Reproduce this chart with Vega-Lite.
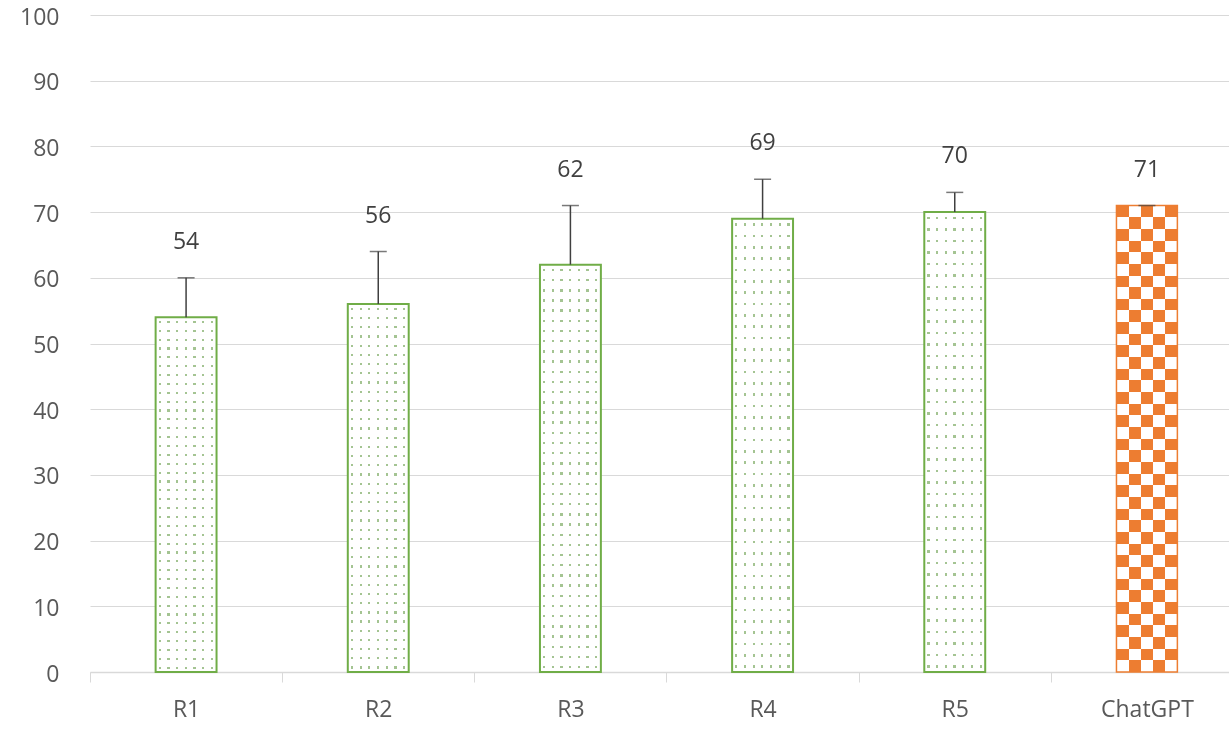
{
  "$schema": "https://vega.github.io/schema/vega-lite/v6.json",
  "width": 1139,
  "height": 657,
  "autosize": {"type": "none"},
  "padding": {"left": 90, "top": 15, "right": 0, "bottom": 58},
  "background": "white",
  "data": {"values": [
    {"cat": "R1", "value": 54, "upper": 60, "grp": "R"},
    {"cat": "R2", "value": 56, "upper": 64, "grp": "R"},
    {"cat": "R3", "value": 62, "upper": 71, "grp": "R"},
    {"cat": "R4", "value": 69, "upper": 75, "grp": "R"},
    {"cat": "R5", "value": 70, "upper": 73, "grp": "R"},
    {"cat": "ChatGPT", "value": 71, "upper": 71, "grp": "C"}
  ]},
  "encoding": {
    "x": {"field": "cat", "type": "nominal", "sort": null,
      "scale": {"paddingInner": 0.683, "paddingOuter": 0.3415, "range": [0, 1153]},
      "axis": {"labelAngle": 0, "tickOffset": -96.1, "labelOffset": 96.1, "grid": false, "tickSize": 10, "labelPadding": 16, "domainWidth": 1.5}}
  },
  "layer": [
    {
      "transform": [{"filter": "datum.grp == 'R'"}],
      "mark": {"type": "bar", "fill": {"gradient": "linear", "x1": 0, "y1": 0, "x2": 0, "y2": 1, "stops": [
        {"offset": 0, "color": "#fff"},
        {"offset": 0.01, "color": "#fff"}, {"offset": 0.01, "color": "#000"}, {"offset": 0.016, "color": "#000"}, {"offset": 0.016, "color": "#fff"},
        {"offset": 0.035, "color": "#fff"}, {"offset": 0.035, "color": "#000"}, {"offset": 0.041, "color": "#000"}, {"offset": 0.041, "color": "#fff"},
        {"offset": 0.06, "color": "#fff"}, {"offset": 0.06, "color": "#000"}, {"offset": 0.066, "color": "#000"}, {"offset": 0.066, "color": "#fff"},
        {"offset": 0.085, "color": "#fff"}, {"offset": 0.085, "color": "#000"}, {"offset": 0.091, "color": "#000"}, {"offset": 0.091, "color": "#fff"},
        {"offset": 0.11, "color": "#fff"}, {"offset": 0.11, "color": "#000"}, {"offset": 0.116, "color": "#000"}, {"offset": 0.116, "color": "#fff"},
        {"offset": 0.135, "color": "#fff"}, {"offset": 0.135, "color": "#000"}, {"offset": 0.141, "color": "#000"}, {"offset": 0.141, "color": "#fff"},
        {"offset": 0.16, "color": "#fff"}, {"offset": 0.16, "color": "#000"}, {"offset": 0.166, "color": "#000"}, {"offset": 0.166, "color": "#fff"},
        {"offset": 0.185, "color": "#fff"}, {"offset": 0.185, "color": "#000"}, {"offset": 0.191, "color": "#000"}, {"offset": 0.191, "color": "#fff"},
        {"offset": 0.21, "color": "#fff"}, {"offset": 0.21, "color": "#000"}, {"offset": 0.216, "color": "#000"}, {"offset": 0.216, "color": "#fff"},
        {"offset": 0.235, "color": "#fff"}, {"offset": 0.235, "color": "#000"}, {"offset": 0.241, "color": "#000"}, {"offset": 0.241, "color": "#fff"},
        {"offset": 0.26, "color": "#fff"}, {"offset": 0.26, "color": "#000"}, {"offset": 0.266, "color": "#000"}, {"offset": 0.266, "color": "#fff"},
        {"offset": 0.285, "color": "#fff"}, {"offset": 0.285, "color": "#000"}, {"offset": 0.291, "color": "#000"}, {"offset": 0.291, "color": "#fff"},
        {"offset": 0.31, "color": "#fff"}, {"offset": 0.31, "color": "#000"}, {"offset": 0.316, "color": "#000"}, {"offset": 0.316, "color": "#fff"},
        {"offset": 0.335, "color": "#fff"}, {"offset": 0.335, "color": "#000"}, {"offset": 0.341, "color": "#000"}, {"offset": 0.341, "color": "#fff"},
        {"offset": 0.36, "color": "#fff"}, {"offset": 0.36, "color": "#000"}, {"offset": 0.366, "color": "#000"}, {"offset": 0.366, "color": "#fff"},
        {"offset": 0.385, "color": "#fff"}, {"offset": 0.385, "color": "#000"}, {"offset": 0.391, "color": "#000"}, {"offset": 0.391, "color": "#fff"},
        {"offset": 0.41, "color": "#fff"}, {"offset": 0.41, "color": "#000"}, {"offset": 0.416, "color": "#000"}, {"offset": 0.416, "color": "#fff"},
        {"offset": 0.435, "color": "#fff"}, {"offset": 0.435, "color": "#000"}, {"offset": 0.441, "color": "#000"}, {"offset": 0.441, "color": "#fff"},
        {"offset": 0.46, "color": "#fff"}, {"offset": 0.46, "color": "#000"}, {"offset": 0.466, "color": "#000"}, {"offset": 0.466, "color": "#fff"},
        {"offset": 0.485, "color": "#fff"}, {"offset": 0.485, "color": "#000"}, {"offset": 0.491, "color": "#000"}, {"offset": 0.491, "color": "#fff"},
        {"offset": 0.51, "color": "#fff"}, {"offset": 0.51, "color": "#000"}, {"offset": 0.516, "color": "#000"}, {"offset": 0.516, "color": "#fff"},
        {"offset": 0.535, "color": "#fff"}, {"offset": 0.535, "color": "#000"}, {"offset": 0.541, "color": "#000"}, {"offset": 0.541, "color": "#fff"},
        {"offset": 0.56, "color": "#fff"}, {"offset": 0.56, "color": "#000"}, {"offset": 0.566, "color": "#000"}, {"offset": 0.566, "color": "#fff"},
        {"offset": 0.585, "color": "#fff"}, {"offset": 0.585, "color": "#000"}, {"offset": 0.591, "color": "#000"}, {"offset": 0.591, "color": "#fff"},
        {"offset": 0.61, "color": "#fff"}, {"offset": 0.61, "color": "#000"}, {"offset": 0.616, "color": "#000"}, {"offset": 0.616, "color": "#fff"},
        {"offset": 0.635, "color": "#fff"}, {"offset": 0.635, "color": "#000"}, {"offset": 0.641, "color": "#000"}, {"offset": 0.641, "color": "#fff"},
        {"offset": 0.66, "color": "#fff"}, {"offset": 0.66, "color": "#000"}, {"offset": 0.666, "color": "#000"}, {"offset": 0.666, "color": "#fff"},
        {"offset": 0.685, "color": "#fff"}, {"offset": 0.685, "color": "#000"}, {"offset": 0.691, "color": "#000"}, {"offset": 0.691, "color": "#fff"},
        {"offset": 0.71, "color": "#fff"}, {"offset": 0.71, "color": "#000"}, {"offset": 0.716, "color": "#000"}, {"offset": 0.716, "color": "#fff"},
        {"offset": 0.735, "color": "#fff"}, {"offset": 0.735, "color": "#000"}, {"offset": 0.741, "color": "#000"}, {"offset": 0.741, "color": "#fff"},
        {"offset": 0.76, "color": "#fff"}, {"offset": 0.76, "color": "#000"}, {"offset": 0.766, "color": "#000"}, {"offset": 0.766, "color": "#fff"},
        {"offset": 0.785, "color": "#fff"}, {"offset": 0.785, "color": "#000"}, {"offset": 0.791, "color": "#000"}, {"offset": 0.791, "color": "#fff"},
        {"offset": 0.81, "color": "#fff"}, {"offset": 0.81, "color": "#000"}, {"offset": 0.816, "color": "#000"}, {"offset": 0.816, "color": "#fff"},
        {"offset": 0.835, "color": "#fff"}, {"offset": 0.835, "color": "#000"}, {"offset": 0.841, "color": "#000"}, {"offset": 0.841, "color": "#fff"},
        {"offset": 0.86, "color": "#fff"}, {"offset": 0.86, "color": "#000"}, {"offset": 0.866, "color": "#000"}, {"offset": 0.866, "color": "#fff"},
        {"offset": 0.885, "color": "#fff"}, {"offset": 0.885, "color": "#000"}, {"offset": 0.891, "color": "#000"}, {"offset": 0.891, "color": "#fff"},
        {"offset": 0.91, "color": "#fff"}, {"offset": 0.91, "color": "#000"}, {"offset": 0.916, "color": "#000"}, {"offset": 0.916, "color": "#fff"},
        {"offset": 0.935, "color": "#fff"}, {"offset": 0.935, "color": "#000"}, {"offset": 0.941, "color": "#000"}, {"offset": 0.941, "color": "#fff"},
        {"offset": 0.96, "color": "#fff"}, {"offset": 0.96, "color": "#000"}, {"offset": 0.966, "color": "#000"}, {"offset": 0.966, "color": "#fff"},
        {"offset": 0.985, "color": "#fff"}, {"offset": 0.985, "color": "#000"}, {"offset": 0.991, "color": "#000"}, {"offset": 0.991, "color": "#fff"},
        {"offset": 1, "color": "#fff"}
      ]}},
      "encoding": {"y": {"field": "value", "type": "quantitative", "scale": {"domain": [0, 100]},
        "axis": {"values": [0, 10, 20, 30, 40, 50, 60, 70, 80, 90, 100], "labelOffset": 2}}}
    },
    {
      "transform": [{"filter": "datum.grp == 'R'"}],
      "mark": {"type": "bar", "blend": "screen", "fill": {"gradient": "linear", "x1": 0, "y1": 0, "x2": 1, "y2": 0, "stops": [
        {"offset": 0, "color": "#fff"},
        {"offset": 0.05, "color": "#fff"}, {"offset": 0.05, "color": "#000"}, {"offset": 0.086, "color": "#000"}, {"offset": 0.086, "color": "#fff"},
        {"offset": 0.193, "color": "#fff"}, {"offset": 0.193, "color": "#000"}, {"offset": 0.229, "color": "#000"}, {"offset": 0.229, "color": "#fff"},
        {"offset": 0.336, "color": "#fff"}, {"offset": 0.336, "color": "#000"}, {"offset": 0.372, "color": "#000"}, {"offset": 0.372, "color": "#fff"},
        {"offset": 0.479, "color": "#fff"}, {"offset": 0.479, "color": "#000"}, {"offset": 0.515, "color": "#000"}, {"offset": 0.515, "color": "#fff"},
        {"offset": 0.621, "color": "#fff"}, {"offset": 0.621, "color": "#000"}, {"offset": 0.657, "color": "#000"}, {"offset": 0.657, "color": "#fff"},
        {"offset": 0.764, "color": "#fff"}, {"offset": 0.764, "color": "#000"}, {"offset": 0.8, "color": "#000"}, {"offset": 0.8, "color": "#fff"},
        {"offset": 0.907, "color": "#fff"}, {"offset": 0.907, "color": "#000"}, {"offset": 0.943, "color": "#000"}, {"offset": 0.943, "color": "#fff"},
        {"offset": 1, "color": "#fff"}
      ]}},
      "encoding": {"y": {"field": "value", "type": "quantitative"}}
    },
    {
      "transform": [{"filter": "datum.grp == 'R'"}],
      "mark": {"type": "bar", "blend": "screen", "fill": "#a4c492"},
      "encoding": {"y": {"field": "value", "type": "quantitative"}}
    },
    {
      "transform": [{"filter": "datum.grp == 'R'"}],
      "mark": {"type": "bar", "fill": null, "fillOpacity": 0, "stroke": "#70ad47", "strokeWidth": 2},
      "encoding": {"y": {"field": "value", "type": "quantitative"}}
    },
    {
      "transform": [{"filter": "datum.grp == 'C'"}],
      "mark": {"type": "bar", "fill": {"gradient": "linear", "x1": 0, "y1": 0, "x2": 0, "y2": 1, "stops": [
        {"offset": 0, "color": "#fff"}, {"offset": 0.025, "color": "#fff"},
        {"offset": 0.025, "color": "#000"}, {"offset": 0.05, "color": "#000"},
        {"offset": 0.05, "color": "#fff"}, {"offset": 0.075, "color": "#fff"},
        {"offset": 0.075, "color": "#000"}, {"offset": 0.1, "color": "#000"},
        {"offset": 0.1, "color": "#fff"}, {"offset": 0.125, "color": "#fff"},
        {"offset": 0.125, "color": "#000"}, {"offset": 0.15, "color": "#000"},
        {"offset": 0.15, "color": "#fff"}, {"offset": 0.175, "color": "#fff"},
        {"offset": 0.175, "color": "#000"}, {"offset": 0.2, "color": "#000"},
        {"offset": 0.2, "color": "#fff"}, {"offset": 0.225, "color": "#fff"},
        {"offset": 0.225, "color": "#000"}, {"offset": 0.25, "color": "#000"},
        {"offset": 0.25, "color": "#fff"}, {"offset": 0.275, "color": "#fff"},
        {"offset": 0.275, "color": "#000"}, {"offset": 0.3, "color": "#000"},
        {"offset": 0.3, "color": "#fff"}, {"offset": 0.325, "color": "#fff"},
        {"offset": 0.325, "color": "#000"}, {"offset": 0.35, "color": "#000"},
        {"offset": 0.35, "color": "#fff"}, {"offset": 0.375, "color": "#fff"},
        {"offset": 0.375, "color": "#000"}, {"offset": 0.4, "color": "#000"},
        {"offset": 0.4, "color": "#fff"}, {"offset": 0.425, "color": "#fff"},
        {"offset": 0.425, "color": "#000"}, {"offset": 0.45, "color": "#000"},
        {"offset": 0.45, "color": "#fff"}, {"offset": 0.475, "color": "#fff"},
        {"offset": 0.475, "color": "#000"}, {"offset": 0.5, "color": "#000"},
        {"offset": 0.5, "color": "#fff"}, {"offset": 0.525, "color": "#fff"},
        {"offset": 0.525, "color": "#000"}, {"offset": 0.55, "color": "#000"},
        {"offset": 0.55, "color": "#fff"}, {"offset": 0.575, "color": "#fff"},
        {"offset": 0.575, "color": "#000"}, {"offset": 0.6, "color": "#000"},
        {"offset": 0.6, "color": "#fff"}, {"offset": 0.625, "color": "#fff"},
        {"offset": 0.625, "color": "#000"}, {"offset": 0.65, "color": "#000"},
        {"offset": 0.65, "color": "#fff"}, {"offset": 0.675, "color": "#fff"},
        {"offset": 0.675, "color": "#000"}, {"offset": 0.7, "color": "#000"},
        {"offset": 0.7, "color": "#fff"}, {"offset": 0.725, "color": "#fff"},
        {"offset": 0.725, "color": "#000"}, {"offset": 0.75, "color": "#000"},
        {"offset": 0.75, "color": "#fff"}, {"offset": 0.775, "color": "#fff"},
        {"offset": 0.775, "color": "#000"}, {"offset": 0.8, "color": "#000"},
        {"offset": 0.8, "color": "#fff"}, {"offset": 0.825, "color": "#fff"},
        {"offset": 0.825, "color": "#000"}, {"offset": 0.85, "color": "#000"},
        {"offset": 0.85, "color": "#fff"}, {"offset": 0.875, "color": "#fff"},
        {"offset": 0.875, "color": "#000"}, {"offset": 0.9, "color": "#000"},
        {"offset": 0.9, "color": "#fff"}, {"offset": 0.925, "color": "#fff"},
        {"offset": 0.925, "color": "#000"}, {"offset": 0.95, "color": "#000"},
        {"offset": 0.95, "color": "#fff"}, {"offset": 0.975, "color": "#fff"},
        {"offset": 0.975, "color": "#000"}, {"offset": 1, "color": "#000"}
      ]}},
      "encoding": {"y": {"field": "value", "type": "quantitative"}}
    },
    {
      "transform": [{"filter": "datum.grp == 'C'"}],
      "mark": {"type": "bar", "blend": "difference", "fill": {"gradient": "linear", "x1": 0, "y1": 0, "x2": 1, "y2": 0, "stops": [
        {"offset": 0, "color": "#fff"}, {"offset": 0.2, "color": "#fff"},
        {"offset": 0.2, "color": "#000"}, {"offset": 0.4, "color": "#000"},
        {"offset": 0.4, "color": "#fff"}, {"offset": 0.6, "color": "#fff"},
        {"offset": 0.6, "color": "#000"}, {"offset": 0.8, "color": "#000"},
        {"offset": 0.8, "color": "#fff"}, {"offset": 1, "color": "#fff"}
      ]}},
      "encoding": {"y": {"field": "value", "type": "quantitative"}}
    },
    {
      "transform": [{"filter": "datum.grp == 'C'"}],
      "mark": {"type": "bar", "blend": "screen", "fill": "#ed7d31"},
      "encoding": {"y": {"field": "value", "type": "quantitative"}}
    },
    {
      "transform": [{"filter": "datum.grp == 'C'"}],
      "mark": {"type": "bar", "fill": null, "fillOpacity": 0, "stroke": "#ed7d31", "strokeWidth": 1.5},
      "encoding": {"y": {"field": "value", "type": "quantitative"}}
    },
    {
      "mark": {"type": "rule", "color": "#404040", "strokeWidth": 1.5},
      "encoding": {"y": {"field": "value", "type": "quantitative"}, "y2": {"field": "upper"}}
    },
    {
      "mark": {"type": "tick", "color": "#404040", "thickness": 1.5, "size": 17},
      "encoding": {"y": {"field": "upper", "type": "quantitative"}}
    },
    {
      "mark": {"type": "text", "font": "Open Sans", "fontSize": 23, "color": "#404040", "baseline": "middle", "dy": -36},
      "encoding": {"y": {"field": "upper", "type": "quantitative"}, "text": {"field": "value"}}
    }
  ],
  "config": {
    "view": {"stroke": null},
    "axis": {"labelFont": "Open Sans", "labelFontSize": 23, "labelColor": "#595959", "title": null,
      "domainColor": "#d9d9d9", "tickColor": "#d9d9d9", "gridColor": "#d9d9d9"},
    "axisY": {"domain": false, "ticks": false, "grid": true, "labelPadding": 31}
  }
}
